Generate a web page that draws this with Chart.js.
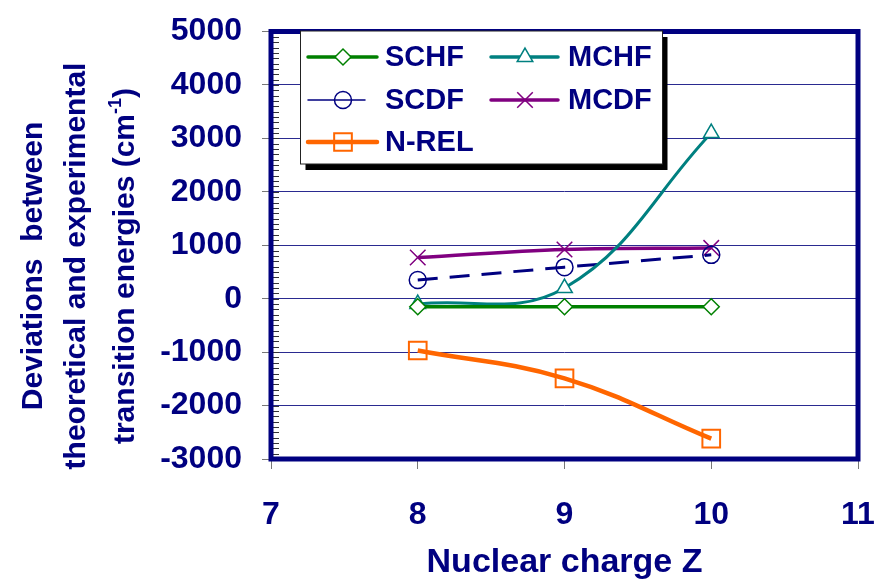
<!DOCTYPE html>
<html>
<head>
<meta charset="utf-8">
<script src="https://cdn.jsdelivr.net/npm/chart.js@4/dist/chart.umd.min.js"></script>
<style>
  html, body { margin: 0; padding: 0; background: #ffffff; }
  #wrap { width: 876px; height: 581px; }
</style>
</head>
<body>
<div id="wrap"><canvas id="c" width="876" height="581"></canvas></div>
<script>
// Nuclear charge Z of each ion
const nuclearCharge = [8, 9, 10];

// Deviation of each method from experiment (cm^-1)
const schf = [-150, -150, -150];
const mchf = [-100, 200, 3100];
const scdf = [350, 590, 820];
const mcdf = [770, 920, 950];
const nrel = [-970, -1490, -2620];

// Axis ranges and tick steps
const xRange = [7, 11];
const xStep = 1;
const yRange = [-3000, 5000];
const yStep = 1000;
const yMinorStep = 100;

const NAVY = '#000080';
const FONT = '"Liberation Sans", Arial, Helvetica, sans-serif';

const toPoints = ys => nuclearCharge.map((z, i) => ({ x: z, y: ys[i] }));

const datasets = [
  { label: 'SCHF', data: toPoints(schf), borderColor: '#008000', borderWidth: 3.5,
    pointStyle: 'rectRot', pointRadius: 8, pointBorderWidth: 1.5,
    pointBackgroundColor: '#ffffff', pointBorderColor: '#008000', tension: 0,
    legendLineWidth: 3.5, col: 0, row: 0 },
  { label: 'MCHF', data: toPoints(mchf), borderColor: '#008080', borderWidth: 3,
    pointStyle: 'triangle', pointRadius: 9, pointBorderWidth: 1.5,
    pointBackgroundColor: '#ffffff', pointBorderColor: '#008080', tension: 0.4,
    legendLineWidth: 3.5, col: 1, row: 0 },
  { label: 'SCDF', data: toPoints(scdf), borderColor: NAVY, borderWidth: 3,
    borderDash: [20, 12], pointStyle: 'circle', pointRadius: 8.5, pointBorderWidth: 1.5,
    pointBackgroundColor: 'rgba(0,0,0,0)', pointBorderColor: NAVY, tension: 0,
    legendLineWidth: 1.5, col: 0, row: 1 },
  { label: 'MCDF', data: toPoints(mcdf), borderColor: '#800080', borderWidth: 3.5,
    pointStyle: 'crossRot', pointRadius: 11, pointBorderWidth: 1.5,
    pointBackgroundColor: '#800080', pointBorderColor: '#800080', tension: 0.4,
    legendLineWidth: 3.5, col: 1, row: 1 },
  { label: 'N-REL', data: toPoints(nrel), borderColor: '#FF6600', borderWidth: 4.5,
    pointStyle: 'rect', pointRadius: 12.5, pointBorderWidth: 2,
    pointBackgroundColor: 'rgba(0,0,0,0)', pointBorderColor: '#FF6600', tension: 0.4,
    legendLineWidth: 4.5, col: 0, row: 2 }
];

// Small inward ticks every 100 cm^-1 on the left edge of the plot
const minorTicks = {
  id: 'minorTicks',
  beforeDatasetsDraw(chart) {
    const { ctx, chartArea } = chart;
    const y = chart.scales.y;
    ctx.save();
    ctx.strokeStyle = '#333333';
    ctx.lineWidth = 1;
    for (let v = yRange[0]; v <= yRange[1]; v += yMinorStep) {
      const py = Math.round(y.getPixelForValue(v)) + 0.5;
      ctx.beginPath();
      ctx.moveTo(chartArea.left, py);
      ctx.lineTo(chartArea.left + 8, py);
      ctx.stroke();
    }
    ctx.restore();
  }
};

// Heavy navy frame around the plot area
const plotFrame = {
  id: 'plotFrame',
  afterDatasetsDraw(chart) {
    const { ctx, chartArea: a } = chart;
    ctx.save();
    ctx.strokeStyle = NAVY;
    ctx.lineWidth = 5;
    ctx.strokeRect(a.left, a.top, a.right - a.left, a.bottom - a.top);
    ctx.restore();
  }
};

// Boxed legend with drop shadow, two columns
const boxLegend = {
  id: 'boxLegend',
  afterDraw(chart) {
    const { ctx } = chart;
    const box = { x: 300.5, y: 31, w: 362, h: 133 };
    ctx.save();
    ctx.fillStyle = '#000000';
    ctx.fillRect(box.x + 5, box.y + 6, box.w, box.h);
    ctx.fillStyle = '#ffffff';
    ctx.fillRect(box.x, box.y, box.w, box.h);
    ctx.strokeStyle = '#222222';
    ctx.lineWidth = 1;
    ctx.strokeRect(box.x, box.y, box.w, box.h);

    const cols = [{ x0: 308, x1: 377, mx: 343, tx: 385 }, { x0: 491, x1: 558, mx: 525, tx: 568 }];
    const rows = [57, 100, 142];
    chart.data.datasets.forEach(ds => {
      const c = cols[ds.col];
      const yy = rows[ds.row];
      ctx.strokeStyle = ds.borderColor;
      ctx.lineWidth = ds.legendLineWidth;
      ctx.lineCap = 'round';
      ctx.beginPath();
      ctx.moveTo(c.x0, yy);
      ctx.lineTo(ds.col === 0 && ds.row === 1 ? c.x1 - 12 : c.x1, yy);
      ctx.stroke();
      ctx.lineCap = 'butt';
      ctx.fillStyle = ds.pointBackgroundColor === 'rgba(0,0,0,0)' ? 'rgba(0,0,0,0)' : '#ffffff';
      if (ds.pointStyle === 'crossRot') ctx.fillStyle = ds.pointBorderColor;
      ctx.strokeStyle = ds.pointBorderColor;
      ctx.lineWidth = ds.pointBorderWidth;
      Chart.helpers.drawPoint(ctx, { pointStyle: ds.pointStyle, radius: ds.pointRadius, borderWidth: ds.pointBorderWidth, rotation: 0 }, c.mx, yy);
      ctx.fillStyle = NAVY;
      ctx.font = 'bold 29px ' + FONT;
      ctx.textAlign = 'left';
      ctx.textBaseline = 'middle';
      ctx.fillText(ds.label, c.tx, yy + 1);
    });
    ctx.restore();
  }
};

// Axis titles (y title in three rotated lines with a superscript)
const axisTitles = {
  id: 'axisTitles',
  afterDraw(chart) {
    const { ctx, chartArea: a } = chart;
    ctx.save();
    ctx.fillStyle = NAVY;
    ctx.textBaseline = 'alphabetic';
    ctx.textAlign = 'center';
    ctx.font = 'bold 34px ' + FONT;
    ctx.fillText('Nuclear charge Z', (a.left + a.right) / 2, 572);

    const big = 'bold 30px ' + FONT;
    const small = 'bold 18px ' + FONT;
    const cy = 266;
    const lines = [
      { x: 42, parts: [{ t: 'Deviations  between', f: big, dy: 0 }] },
      { x: 85, parts: [{ t: 'theoretical and experimental', f: big, dy: 0 }] },
      { x: 134, parts: [{ t: 'transition energies (cm', f: big, dy: 0 },
                        { t: '-1', f: small, dy: -13 },
                        { t: ')', f: big, dy: 0 }] }
    ];
    lines.forEach(line => {
      let w = 0;
      line.parts.forEach(p => { ctx.font = p.f; p.w = ctx.measureText(p.t).width; w += p.w; });
      ctx.save();
      ctx.translate(line.x, cy);
      ctx.rotate(-Math.PI / 2);
      ctx.textAlign = 'left';
      let px = -w / 2;
      line.parts.forEach(p => {
        ctx.font = p.f;
        ctx.fillText(p.t, px, p.dy);
        px += p.w;
      });
      ctx.restore();
    });
    ctx.restore();
  }
};

new Chart(document.getElementById('c'), {
  type: 'line',
  data: { datasets },
  options: {
    responsive: false,
    devicePixelRatio: 1,
    animation: false,
    layout: { padding: { left: 0, right: 18, top: 31.5, bottom: 0 } },
    plugins: { legend: { display: false }, tooltip: { enabled: false } },
    scales: {
      x: {
        type: 'linear',
        min: xRange[0], max: xRange[1],
        afterFit(scale) { scale.height = 122; scale.paddingLeft = 0; scale.paddingRight = 0; },
        border: { display: false },
        grid: { drawOnChartArea: false, drawTicks: true, tickLength: 10, tickColor: '#777777' },
        ticks: { stepSize: xStep, color: NAVY, padding: 27,
                 font: { family: FONT, size: 32, weight: 'bold' } }
      },
      y: {
        min: yRange[0], max: yRange[1],
        afterFit(scale) { scale.width = 271; scale.paddingTop = 0; scale.paddingBottom = 0; },
        border: { display: false },
        grid: { color: '#2a2a90', lineWidth: 1, drawTicks: true, tickLength: 9, tickColor: '#777777' },
        ticks: { stepSize: yStep, color: NAVY, padding: 20,
                 callback: v => String(v),
                 font: { family: FONT, size: 32, weight: 'bold' } }
      }
    }
  },
  plugins: [minorTicks, plotFrame, boxLegend, axisTitles]
});
</script>
</body>
</html>
